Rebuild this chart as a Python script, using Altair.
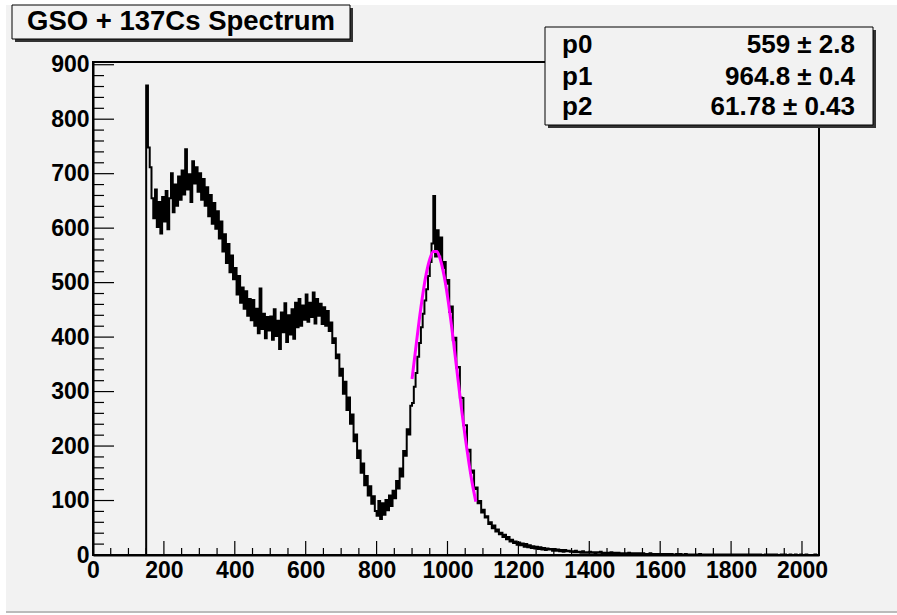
import altair as alt
import pandas as pd

FONT = "Liberation Sans"

# ---------------- data ----------------
bin_width = 5
first_bin = 145
counts = [
    0,
    862, 748, 712, 655, 618, 671, 602, 648, 590, 657,
    612, 668, 598, 655, 701, 629, 680, 641, 695, 652,
    706, 662, 745, 671, 699, 648, 723, 682, 712, 667,
    701, 652, 690, 641, 675, 622, 661, 608, 646, 599,
    631, 581, 612, 557, 589, 536, 571, 519, 550, 506,
    527, 478, 512, 463, 491, 452, 484, 439, 470, 431,
    468, 421, 452, 407, 489, 415, 443, 398, 437, 412,
    438, 395, 451, 402, 430, 378, 445, 409, 462, 391,
    440, 405, 451, 397, 463, 418, 470, 421, 458, 432,
    478, 428, 463, 437, 482, 425, 470, 439, 461, 424,
    455, 421, 448, 411, 427, 389, 398, 361, 368, 329,
    342, 296, 318, 266, 289, 241, 258, 209, 221, 178,
    192, 151, 168, 128, 145, 109, 126, 94, 108, 81,
    72, 99, 66, 95, 74, 101, 82, 109, 90, 118,
    104, 136, 122, 159, 144, 191, 182, 231, 221, 274,
    279, 309, 334, 364, 389, 418, 443, 467, 488, 512,
    538, 572, 659, 548, 596, 551, 583, 527, 538, 498,
    505, 446, 456, 394, 399, 344, 345, 289, 288, 238,
    238, 190, 193, 151, 155, 121, 124, 95, 99, 78,
    83, 69, 71, 57, 60, 49, 54, 43, 47, 38,
    41, 33, 37, 29, 33, 25, 28, 22, 25, 19,
    23, 18, 21, 15, 20, 14, 18, 13, 16, 12,
    15, 11, 14, 10, 13, 9, 12, 10, 11, 8,
    11, 8, 10, 7, 9, 6, 9, 7, 8, 6,
    7, 5, 8, 5, 6, 4, 7, 4, 5, 4,
    6, 4, 5, 3, 5, 4, 6, 3, 4, 3,
    4, 3, 5, 2, 4, 3, 4, 2, 3, 3,
    3, 2, 4, 2, 3, 2, 3, 1, 3, 2,
    3, 2, 2, 1, 3, 2, 2, 1, 2, 2,
    2, 1, 2, 1, 2, 1, 2, 1, 1, 2,
    1, 2, 1, 1, 2, 1, 1, 0, 1, 1,
    1, 1, 2, 0, 1, 1, 1, 0, 1, 1,
    1, 0, 1, 1, 1, 0, 1, 1, 0, 1,
    1, 0, 1, 0, 1, 1, 0, 1, 0, 1,
    0, 1, 1, 0, 1, 0, 1, 0, 0, 1,
    0, 1, 0, 1, 0, 1, 0, 0, 1, 0,
    1, 0, 0, 1, 0, 0, 1, 0, 0, 1,
    0, 0, 1, 0, 0, 0, 0, 1, 0, 0,
]

fit_x = [900, 910, 920, 930, 940, 950, 960, 970, 980, 990,
         1000, 1010, 1020, 1030, 1040, 1050, 1060, 1070, 1080]
fit_y = [323, 377, 430, 477, 516, 543, 557, 557, 542, 514,
         475, 428, 375, 320, 266, 216, 171, 131, 98]

param_names = ["p0", "p1", "p2"]
param_values = ["559", "964.8", "61.78"]
param_errors = ["2.8", "0.4", "0.43"]

title_text = "GSO + 137Cs Spectrum"

x_major = [0, 200, 400, 600, 800, 1000, 1200, 1400, 1600, 1800, 2000]
x_minor = [v for v in range(50, 2048, 50) if v % 200 != 0]
y_major = [0, 100, 200, 300, 400, 500, 600, 700, 800, 900]
y_minor = [v for v in range(20, 901, 20) if v % 100 != 0]

x_domain = [0, 2048]
y_domain = [0, 905]

# ---------------- layout ----------------
W, H = 726, 493
PAD_L, PAD_T = 93, 62
BG = "#f2f2f2"

hist_df = pd.DataFrame({
    "x": [first_bin + i * bin_width for i in range(len(counts))],
    "y": counts,
})
fit_df = pd.DataFrame({"x": fit_x, "y": fit_y})
dummy = pd.DataFrame({"k": [0]})

xscale = alt.Scale(domain=x_domain, nice=False, zero=False)
yscale = alt.Scale(domain=y_domain, nice=False, zero=False)
xaxis = alt.Axis(values=x_major, title=None, ticks=False, tickSize=0, grid=False, format="d",
                 labelFlush=False, labelOverlap=False, labelPadding=4,
                 labelFontSize=23, labelFont=FONT, labelFontWeight="bold",
                 labelColor="black", domainColor="black", domainWidth=2)
yaxis = alt.Axis(values=y_major, title=None, ticks=False, tickSize=0, grid=False, format="d",
                 labelFlush=False, labelOverlap=False, labelPadding=4,
                 labelFontSize=23, labelFont=FONT, labelFontWeight="bold",
                 labelColor="black", domainColor="black", domainWidth=2)
X = alt.X("x:Q", scale=xscale, axis=xaxis)
Y = alt.Y("y:Q", scale=yscale, axis=yaxis)

layers = []

# white outer margins of the canvas and bottom border line
layers.append(alt.Chart(dummy).mark_rect(color="white").encode(
    x=alt.value(-PAD_L), x2=alt.value(-PAD_L + 6), y=alt.value(-PAD_T), y2=alt.value(H + 60)))
layers.append(alt.Chart(dummy).mark_rect(color="white").encode(
    x=alt.value(-PAD_L), x2=alt.value(W + 78), y=alt.value(-PAD_T), y2=alt.value(-PAD_T + 5)))
layers.append(alt.Chart(dummy).mark_rect(color="white").encode(
    x=alt.value(-PAD_L), x2=alt.value(W + 78), y=alt.value(551), y2=alt.value(H + 60)))
layers.append(alt.Chart(dummy).mark_rule(color="#a8a8a8", strokeWidth=1.5).encode(
    x=alt.value(-PAD_L + 6), x2=alt.value(W + 78), y=alt.value(550)))

# histogram
layers.append(alt.Chart(hist_df).mark_line(
    interpolate="step-after", color="black", strokeWidth=2).encode(x=X, y=Y))

# gaussian fit
layers.append(alt.Chart(fit_df).mark_line(
    interpolate="monotone", color="#ff00ff", strokeWidth=3).encode(x=X, y=Y))

# inward ticks
layers.append(alt.Chart(pd.DataFrame({"x": x_major})).mark_rule(color="black", strokeWidth=1.2).encode(
    x=X, y=alt.value(H), y2=alt.value(H - 14)))
layers.append(alt.Chart(pd.DataFrame({"x": x_minor})).mark_rule(color="black", strokeWidth=1.2).encode(
    x=X, y=alt.value(H), y2=alt.value(H - 7)))
layers.append(alt.Chart(pd.DataFrame({"y": y_major})).mark_rule(color="black", strokeWidth=1.2).encode(
    y=Y, x=alt.value(0), x2=alt.value(21)))
layers.append(alt.Chart(pd.DataFrame({"y": y_minor})).mark_rule(color="black", strokeWidth=1.2).encode(
    y=Y, x=alt.value(0), x2=alt.value(11)))

# frame
layers.append(alt.Chart(dummy).mark_rect(fillOpacity=0, stroke="black", strokeWidth=2).encode(
    x=alt.value(0), x2=alt.value(W), y=alt.value(0), y2=alt.value(H)))

# title box with shadow
tx0, tx1, ty0, ty1 = 12 - PAD_L, 350 - PAD_L, 5 - PAD_T, 39 - PAD_T
layers.append(alt.Chart(dummy).mark_rect(color="#333333").encode(
    x=alt.value(tx0 + 3), x2=alt.value(tx1 + 3), y=alt.value(ty0 + 3), y2=alt.value(ty1 + 3)))
layers.append(alt.Chart(dummy).mark_rect(fill=BG, stroke="black", strokeWidth=1).encode(
    x=alt.value(tx0), x2=alt.value(tx1), y=alt.value(ty0), y2=alt.value(ty1)))
layers.append(alt.Chart(dummy).mark_text(
    align="center", baseline="alphabetic", font=FONT, fontSize=27.5, fontWeight="bold", color="black").encode(
    x=alt.value((tx0 + tx1) / 2), y=alt.value(30 - PAD_T), text=alt.value(title_text)))

# stats box with shadow
sx0, sx1, sy0, sy1 = 545 - PAD_L, 873 - PAD_L, 27 - PAD_T, 125 - PAD_T
layers.append(alt.Chart(dummy).mark_rect(color="#333333").encode(
    x=alt.value(sx0 + 3), x2=alt.value(sx1 + 3), y=alt.value(sy0 + 3), y2=alt.value(sy1 + 3)))
layers.append(alt.Chart(dummy).mark_rect(fill=BG, stroke="black", strokeWidth=1).encode(
    x=alt.value(sx0), x2=alt.value(sx1), y=alt.value(sy0), y2=alt.value(sy1)))
baselines = [53, 84.5, 115]
for name, val, err, b in zip(param_names, param_values, param_errors, baselines):
    layers.append(alt.Chart(dummy).mark_text(
        align="left", baseline="alphabetic", font=FONT, fontSize=26, fontWeight="bold", color="black").encode(
        x=alt.value(562 - PAD_L), y=alt.value(b - PAD_T), text=alt.value(name)))
    layers.append(alt.Chart(dummy).mark_text(
        align="right", baseline="alphabetic", font=FONT, fontSize=26, fontWeight="bold", color="black").encode(
        x=alt.value(855 - PAD_L), y=alt.value(b - PAD_T), text=alt.value(f"{val} \u00b1 {err}")))

chart = alt.layer(*layers).properties(
    width=W, height=H,
    autosize=alt.AutoSizeParams(type="none"),
    padding={"left": PAD_L, "top": PAD_T, "right": 897 - PAD_L - W, "bottom": 615 - PAD_T - H},
    background=BG,
).configure_view(stroke=None, fill=BG)

chart.save("out.html", embed_options={"renderer": "svg", "actions": False})
